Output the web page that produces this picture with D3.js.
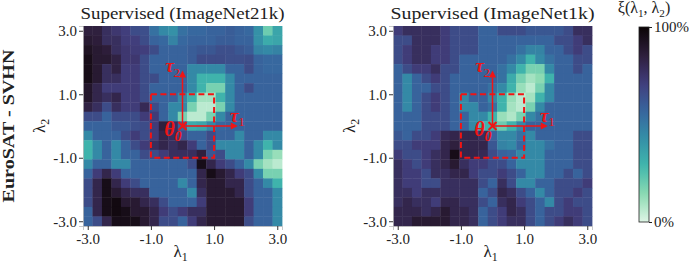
<!DOCTYPE html>
<html>
<head>
<meta charset="utf-8">
<script src="https://cdn.jsdelivr.net/npm/d3@7"></script>
<style>
  body { margin: 0; background: #fff; }
  svg text { font-family: "Liberation Serif", "Times New Roman", serif; fill: #222; }
</style>
</head>
<body>
<svg id="chart" width="689" height="265"></svg>
<script>
// grid positions along each direction (lambda1 left->right, lambda2 bottom->top)
const lambdaSteps = [-3.0, -2.7, -2.4, -2.1, -1.8, -1.5, -1.2, -0.9, -0.6, -0.3, 0.0,
                     0.3, 0.6, 0.9, 1.2, 1.5, 1.8, 2.1, 2.4, 2.7, 3.0];
const axisTicks = [-3.0, -1.0, 1.0, 3.0];
const panelTitles = ["Supervised (ImageNet21k)", "Supervised (ImageNet1k)"];
const rowLabel = "EuroSAT - SVHN";
const colorbarTicks = [0, 100];

// xi(l1,l2) in %, rows from lambda2 = 3.0 (top) to -3.0 (bottom)
const xiImageNet21k = [
  [85,85,78,74,71,66,65,53,45,42,53,56,56,58,58,60,58,56,42,20,35],
  [88,86,78,78,72,71,66,58,56,47,56,58,58,58,60,60,58,58,42,33,35],
  [92,88,86,78,74,72,71,66,58,58,58,60,62,62,65,65,62,60,47,45,47],
  [95,88,88,84,74,74,66,58,58,58,58,60,66,66,66,65,65,66,58,56,56],
  [95,88,78,84,72,72,66,58,58,58,58,45,45,45,45,58,58,66,58,56,56],
  [95,88,78,78,72,72,66,66,58,58,58,45,30,30,30,45,58,58,58,58,58],
  [90,82,72,72,72,72,66,58,58,58,58,45,30,18,18,45,58,66,58,58,58],
  [90,82,78,82,72,72,66,58,58,58,45,30,10,10,30,45,58,58,58,58,58],
  [84,78,66,78,72,72,80,66,58,45,45,18,6,6,18,45,58,58,58,58,58],
  [66,66,58,66,66,66,72,72,58,45,18,6,6,18,45,58,58,58,58,58,58],
  [58,58,58,62,62,65,66,72,85,78,58,33,35,45,56,58,58,58,58,58,58],
  [45,58,58,58,66,72,66,72,82,78,66,58,58,66,58,58,45,58,58,45,45],
  [30,45,58,45,58,66,72,78,82,78,82,72,58,66,45,45,45,58,45,30,45],
  [30,45,58,45,58,58,66,66,72,78,78,78,85,62,66,45,45,58,45,18,12],
  [45,58,58,45,45,58,58,58,58,58,58,66,95,82,72,66,58,45,18,10,6],
  [58,72,82,72,58,58,58,58,58,58,58,58,82,95,88,82,72,66,45,18,18],
  [66,82,95,82,72,66,58,58,58,58,45,58,82,88,88,82,82,66,58,45,30],
  [66,82,95,88,82,78,78,58,58,58,58,45,78,88,88,88,82,66,58,58,45],
  [66,82,95,97,88,88,82,78,66,58,58,58,72,88,88,88,88,72,58,58,45],
  [58,82,95,97,95,88,88,82,72,66,72,78,78,88,88,88,88,72,58,58,45],
  [58,66,82,95,95,95,88,82,66,66,58,72,82,88,88,88,88,66,58,58,45]
];

const xiImageNet1k = [
  [72,78,78,78,78,72,66,66,66,58,58,66,66,66,62,62,62,62,66,78,78],
  [66,66,78,78,78,72,66,66,66,58,58,58,58,58,58,58,58,66,66,72,78],
  [66,72,78,78,72,72,66,66,66,58,58,58,58,53,47,47,58,58,66,72,66],
  [66,72,78,78,72,72,66,58,58,58,58,58,53,45,30,45,53,58,58,66,66],
  [58,66,72,72,78,66,66,58,58,58,58,53,45,30,18,18,45,58,58,66,58],
  [58,45,58,66,72,66,58,58,58,58,58,53,33,18,10,14,30,58,58,58,58],
  [58,45,58,58,66,66,58,58,58,58,53,45,30,12,6,18,45,58,58,58,58],
  [58,45,58,66,72,66,58,45,58,58,45,30,12,6,10,30,45,58,58,58,58],
  [58,45,58,66,72,66,58,45,45,58,53,30,10,6,18,45,58,58,58,58,58],
  [58,58,58,66,66,66,58,58,45,45,30,12,8,18,45,53,58,58,58,58,58],
  [58,58,58,66,66,66,58,58,45,30,30,20,30,45,58,58,58,58,58,58,58],
  [62,58,66,66,72,80,82,82,82,78,58,45,45,53,45,58,58,58,58,66,66],
  [66,66,72,72,72,82,85,82,82,82,62,47,45,56,45,45,53,58,58,66,66],
  [72,66,66,72,78,82,95,82,82,80,66,58,56,45,45,45,58,58,58,66,66],
  [78,72,66,72,78,82,88,78,72,72,66,66,58,45,45,45,58,58,58,66,66],
  [78,72,72,66,78,78,82,82,72,66,66,72,66,58,45,45,58,58,66,58,66],
  [78,72,72,66,66,78,78,78,78,66,58,78,66,45,45,58,58,66,66,66,72],
  [78,78,72,78,78,78,78,78,78,58,66,82,78,66,58,45,58,66,66,72,66],
  [78,82,78,78,72,82,82,78,78,66,58,78,82,72,66,58,45,66,72,66,66],
  [82,82,82,78,82,88,82,82,78,58,66,72,82,78,66,58,66,66,72,72,66],
  [82,82,88,88,88,88,82,82,78,58,66,72,78,78,66,58,66,72,78,72,66]
];

// mako colour map (dark -> light)
const makoStops = ["#0b0405", "#2e1e3b", "#413d7b", "#37659e", "#348fa7", "#40b7ad", "#8bdab2", "#def5e5"];
const mako = d3.piecewise(d3.interpolateRgb, makoStops);
const colorOf = v => mako(1 - v / 100);

const svg = d3.select("#chart");
const red = "#f01414";

const panelW = 199, panelH = 200, panelTop = 26;
const panelLefts = [83, 393];
const datasets = [xiImageNet21k, xiImageNet1k];
const rowLambda2 = lambdaSteps.slice().reverse();

// helper: text with subscripts, parts = [[text, isSub], ...]
function subText(g, parts, size) {
  let lastSub = false;
  parts.forEach(([t, sub]) => {
    const ts = g.append("tspan").text(t);
    if (sub) ts.attr("font-size", size * 0.7).attr("dy", size * 0.25);
    else if (lastSub) ts.attr("dy", -size * 0.25);
    lastSub = sub;
  });
}

datasets.forEach((grid, p) => {
  const g = svg.append("g").attr("transform", `translate(${panelLefts[p]},${panelTop})`);

  const x = d3.scaleLinear().domain([-3.15, 3.15]).range([0, panelW]);
  const y = d3.scaleLinear().domain([3.15, -3.15]).range([0, panelH]);
  const cw = x(0.15) - x(-0.15);
  const ch = y(-0.15) - y(0.15);

  const cells = [];
  grid.forEach((row, r) => row.forEach((v, c) => cells.push({ l1: lambdaSteps[c], l2: rowLambda2[r], v })));

  g.selectAll("rect.cell")
    .data(cells)
    .enter().append("rect")
    .attr("class", "cell")
    .attr("x", d => x(d.l1) - cw / 2)
    .attr("y", d => y(d.l2) - ch / 2)
    .attr("width", cw + 0.4)
    .attr("height", ch + 0.4)
    .attr("fill", d => colorOf(d.v));

  // axes
  const xAxis = g.append("g")
    .attr("transform", `translate(0,${panelH})`)
    .call(d3.axisBottom(x).tickValues(axisTicks).tickFormat(d => d.toFixed(1)).tickSize(4).tickPadding(3));
  const yAxis = g.append("g")
    .call(d3.axisLeft(y).tickValues(axisTicks).tickFormat(d => d.toFixed(1)).tickSize(4).tickPadding(2));
  [xAxis, yAxis].forEach(a => {
    a.select(".domain").attr("stroke", "#bbb").attr("stroke-width", 0.8);
    a.selectAll(".tick line").attr("stroke", "#333");
    a.selectAll(".tick text").attr("font-size", 15).attr("font-family", "Liberation Serif, serif").attr("fill", "#222");
  });

  // title
  g.append("text")
    .attr("x", panelW / 2).attr("y", -7)
    .attr("text-anchor", "middle")
    .attr("font-size", 17)
    .attr("textLength", 204).attr("lengthAdjust", "spacingAndGlyphs")
    .text(panelTitles[p]);

  // axis labels
  const xl = g.append("text").attr("x", panelW / 2 - 2).attr("y", panelH + 31)
    .attr("text-anchor", "middle").attr("font-size", 17);
  subText(xl, [["λ", false], ["1", true]], 17);
  const yl = g.append("text")
    .attr("transform", `translate(-38,${panelH / 2}) rotate(-90)`)
    .attr("text-anchor", "middle").attr("font-size", 17);
  subText(yl, [["λ", false], ["2", true]], 17);

  // red overlay: neighbourhood box, origin and directions
  const ov = g.append("g");
  ov.append("rect")
    .attr("x", x(-1)).attr("y", y(1))
    .attr("width", x(1) - x(-1)).attr("height", y(-1) - y(1))
    .attr("fill", "none").attr("stroke", red).attr("stroke-width", 2)
    .attr("stroke-dasharray", "6,3.5");

  const ox = x(0), oy = y(0), len = 1.75, hl = 7, hw = 3.5;
  ov.append("line").attr("x1", ox).attr("y1", oy).attr("x2", x(len) - hl).attr("y2", oy)
    .attr("stroke", red).attr("stroke-width", 1.5);
  ov.append("path").attr("d", `M${x(len)},${oy} L${x(len) - hl},${oy - hw} L${x(len) - hl},${oy + hw} Z`).attr("fill", red);
  ov.append("line").attr("x1", ox).attr("y1", oy).attr("x2", ox).attr("y2", y(len) + hl)
    .attr("stroke", red).attr("stroke-width", 1.5);
  ov.append("path").attr("d", `M${ox},${y(len)} L${ox - hw},${y(len) + hl} L${ox + hw},${y(len) + hl} Z`).attr("fill", red);

  const m = 4;
  ov.append("path").attr("d", `M${ox - m},${oy - m} L${ox + m},${oy + m} M${ox - m},${oy + m} L${ox + m},${oy - m}`)
    .attr("stroke", red).attr("stroke-width", 2);

  const t1 = ov.append("text").attr("x", x(1.5)).attr("y", y(0.14))
    .attr("font-size", 19).attr("font-style", "italic").attr("font-weight", "bold").style("fill", red);
  subText(t1, [["τ", false], ["1", true]], 19);
  t1.selectAll("tspan").filter((d, i) => i === 1).attr("font-weight", "normal").attr("font-style", "normal");
  const t2 = ov.append("text").attr("x", x(-0.55)).attr("y", y(1.69))
    .attr("font-size", 19).attr("font-style", "italic").attr("font-weight", "bold").style("fill", red);
  subText(t2, [["τ", false], ["2", true]], 19);
  t2.selectAll("tspan").filter((d, i) => i === 1).attr("font-weight", "normal").attr("font-style", "normal");
  const th = ov.append("text").attr("x", x(-0.58)).attr("y", y(-0.33))
    .attr("font-size", 20).attr("font-style", "italic").attr("font-weight", "bold").style("fill", red);
  subText(th, [["θ", false], ["0", true]], 20);
});

// row label
svg.append("text")
  .attr("transform", `translate(14,${panelTop + panelH / 2}) rotate(-90)`)
  .attr("text-anchor", "middle")
  .attr("font-size", 17).attr("font-weight", "bold")
  .attr("textLength", 153).attr("lengthAdjust", "spacingAndGlyphs")
  .text(rowLabel);

// colour bar
const cbX = 639, cbY = 27, cbW = 10, cbH = 195;
const cbScale = d3.scaleLinear().domain([0, 100]).range([cbY + cbH, cbY]);
const grad = svg.append("defs").append("linearGradient")
  .attr("id", "cbgrad").attr("x1", 0).attr("y1", 1).attr("x2", 0).attr("y2", 0);
d3.range(0, 101, 5).forEach(v => {
  grad.append("stop").attr("offset", v / 100).attr("stop-color", colorOf(v));
});
svg.append("rect").attr("x", cbX).attr("y", cbY).attr("width", cbW).attr("height", cbH)
  .attr("fill", "url(#cbgrad)").attr("stroke", "#222").attr("stroke-width", 0.8);
const cbAxis = svg.append("g").attr("transform", `translate(${cbX + cbW},0)`)
  .call(d3.axisRight(cbScale).tickValues(colorbarTicks).tickFormat(d => d + "%").tickSize(3).tickPadding(2));
cbAxis.select(".domain").remove();
cbAxis.selectAll(".tick line").attr("stroke", "#222");
cbAxis.selectAll(".tick text").attr("font-size", 15).attr("font-family", "Liberation Serif, serif").attr("fill", "#222");

const cbTitle = svg.append("text").attr("x", 644).attr("y", 13)
  .attr("text-anchor", "middle").attr("font-size", 16);
subText(cbTitle, [["ξ(λ", false], ["1", true], [", λ", false], ["2", true], [")", false]], 16);
</script>
</body>
</html>
